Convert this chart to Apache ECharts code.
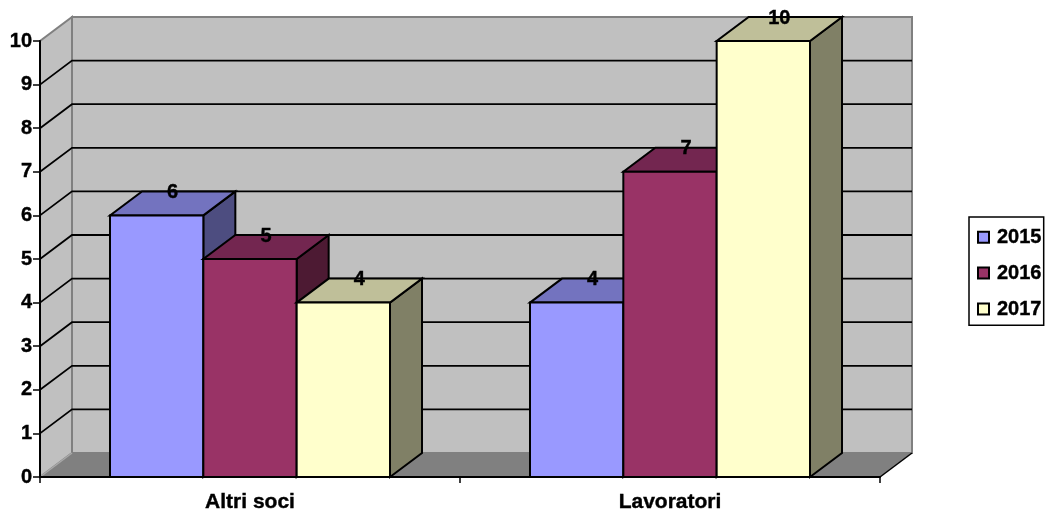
<!DOCTYPE html>
<html><head><meta charset="utf-8">
<style>html,body{margin:0;padding:0;background:#fff}#c{width:1047px;height:514px}</style>
<script src="https://cdn.jsdelivr.net/npm/echarts@6/dist/echarts.min.js"></script>
</head><body><div id="c"></div>
<script>
const categories = ['Altri soci', 'Lavoratori'];
const years = ['2015', '2016', '2017'];
const values2015 = [6, 4];
const values2016 = [5, 7];
const values2017 = [4, 10];
const yTicks = [0, 1, 2, 3, 4, 5, 6, 7, 8, 9, 10];

const DX = 32, DY = -24;
const FONT = '"Liberation Sans", Arial, sans-serif';
const palette = {
  '2015': { front: '#9999FF', top: '#7373BF', side: '#4D4D80' },
  '2016': { front: '#993366', top: '#732650', side: '#4D1A33' },
  '2017': { front: '#FFFFCC', top: '#BFBF99', side: '#808066' }
};

function poly(points, fill, stroke, lw) {
  return { type: 'polygon', shape: { points }, style: { fill, stroke: stroke || null, lineWidth: lw || 0 } };
}

function renderWall(params, api) {
  const cs = params.coordSys;
  const v = api.value(0);
  const y = api.coord([0, v])[1];
  const x0 = cs.x, x1 = cs.x + cs.width;
  const children = [];
  if (v === 0) {
    const yTop = cs.y;
    children.push(poly([[x0, y], [x0 + DX, y + DY], [x0 + DX, yTop + DY], [x0, yTop]], '#C0C0C0', '#808080', 2));
    children.push(poly([[x0 + DX, y + DY], [x1 + DX, y + DY], [x1 + DX, yTop + DY], [x0 + DX, yTop + DY]], '#C0C0C0', '#808080', 2));
    children.push(poly([[x0, y], [x1, y], [x1 + DX, y + DY], [x0 + DX, y + DY]], '#808080', null, 0));
    children.push({ type: 'line', shape: { x1: x0, y1: y, x2: x0 + DX, y2: y + DY }, style: { stroke: '#A8A8A8', lineWidth: 1.5 } });
    children.push({ type: 'line', shape: { x1: x1, y1: y, x2: x1 + DX, y2: y + DY }, style: { stroke: '#000', lineWidth: 1.5 } });
  } else if (v < 10) {
    children.push({ type: 'polyline', shape: { points: [[x0, y], [x0 + DX, y + DY], [x1 + DX, y + DY]] }, style: { stroke: '#000', lineWidth: 1.8, fill: null } });
  }
  return { type: 'group', children };
}

function renderBar(params, api) {
  const year = years[params.seriesIndex - 1];
  const k = params.seriesIndex - 1;
  const c = palette[year];
  const cat = api.value(0), val = api.value(1);
  const base = api.coord([cat, 0]);
  const top = api.coord([cat, val]);
  const w = api.size([1, 0])[0] / 4.5;
  const l = base[0] - 1.5 * w + k * w, r = l + w;
  const yb = base[1], yt = top[1];
  const sk = '#000', lw = 2;
  return {
    type: 'group',
    children: [
      poly([[r, yb], [r + DX, yb + DY], [r + DX, yt + DY], [r, yt]], c.side, sk, lw),
      poly([[l, yt], [r, yt], [r + DX, yt + DY], [l + DX, yt + DY]], c.top, sk, lw),
      poly([[l, yb], [r, yb], [r, yt], [l, yt]], c.front, sk, lw),
      {
        type: 'text', z2: 200,
        style: {
          x: (l + r) / 2 + DX / 2, y: yt + DY + 1, text: String(val),
          fill: '#000', font: 'bold 20px ' + FONT, align: 'center', verticalAlign: 'middle',
          stroke: '#000', lineWidth: 0.4
        }
      }
    ]
  };
}

function barSeries(name, values) {
  return {
    name, type: 'custom', renderItem: renderBar, clip: false, z: 3,
    itemStyle: { color: palette[name].front, borderColor: '#000', borderWidth: 1.5 },
    encode: { x: 0, y: 1 },
    data: values.map((v, i) => [i, v])
  };
}

const chart = echarts.init(document.getElementById('c'), null, { renderer: 'canvas' });
chart.setOption({
  animation: false,
  backgroundColor: '#fff',
  textStyle: { fontFamily: FONT },
  grid: { left: 40, top: 41, width: 840, height: 436, containLabel: false },
  xAxis: {
    type: 'category', data: categories, z: 10,
    axisLine: { lineStyle: { color: '#000', width: 2 } },
    axisTick: { show: true, alignWithLabel: false, length: 6, lineStyle: { color: '#000', width: 1.5 } },
    axisLabel: { color: '#000', fontWeight: 'bold', fontSize: 21, fontFamily: FONT, margin: 15, textBorderColor: '#000', textBorderWidth: 0.4 },
    splitLine: { show: false }
  },
  yAxis: {
    type: 'value', min: 0, max: 10, interval: 1, z: 10,
    axisLine: { show: true, lineStyle: { color: '#000', width: 2 } },
    axisTick: { show: true, length: 7, lineStyle: { color: '#000', width: 1.5 } },
    axisLabel: { color: '#000', fontWeight: 'bold', fontSize: 20, fontFamily: FONT, margin: 8, textBorderColor: '#000', textBorderWidth: 0.4 },
    splitLine: { show: false }
  },
  legend: {
    data: years, orient: 'vertical', left: 969, top: 217,
    padding: [10, 2, 6, 8], itemWidth: 11, itemHeight: 11, itemGap: 15.5,
    borderColor: '#000', borderWidth: 1.5, backgroundColor: '#fff',
    icon: 'rect', selectedMode: false,
    textStyle: { color: '#000', fontWeight: 'bold', fontSize: 20, fontFamily: FONT, padding: [0, 0, 0, 3], textBorderColor: '#000', textBorderWidth: 0.4 }
  },
  series: [
    {
      name: 'walls', type: 'custom', renderItem: renderWall, clip: false, silent: true, z: 1,
      encode: { y: 0 }, data: yTicks.map(v => [v])
    },
    barSeries('2015', values2015),
    barSeries('2016', values2016),
    barSeries('2017', values2017)
  ]
});
</script></body></html>
